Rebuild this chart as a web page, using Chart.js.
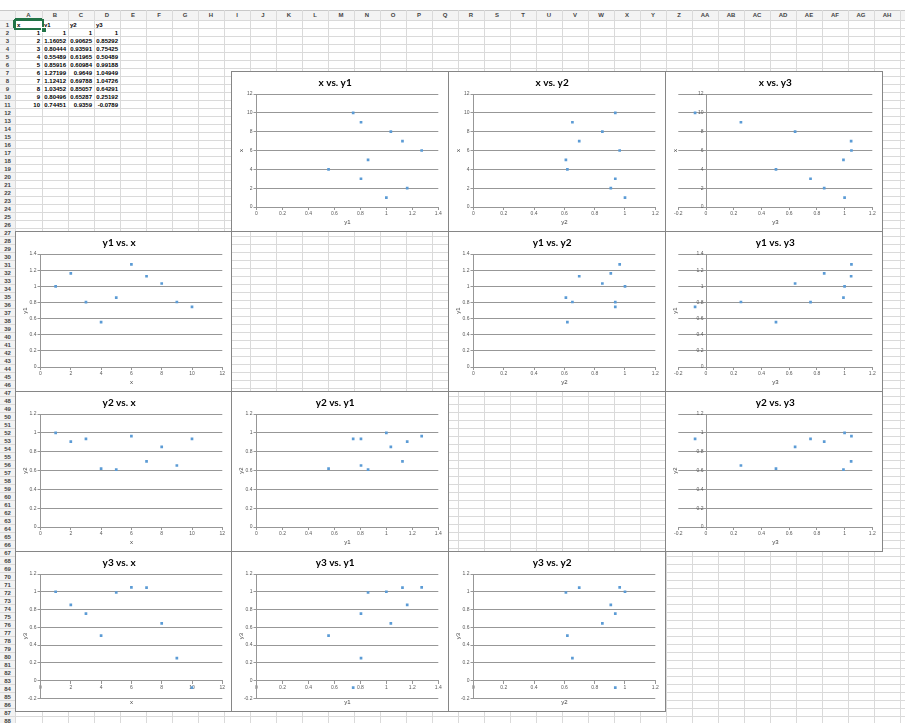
<!DOCTYPE html>
<html><head><meta charset="utf-8">
<script src="https://cdn.jsdelivr.net/npm/chart.js@4.4.1/dist/chart.umd.min.js"></script>
<style>
html,body{margin:0;padding:0;background:#fff;overflow:hidden}
#sheet{position:relative;width:905px;height:723px;overflow:hidden;background:#fff}
.ln{position:absolute;background:#dadada}
.hd{position:absolute;background:#f3f3f3}
.ht{position:absolute;font:bold 6px "Liberation Sans",Arial,sans-serif;color:#444;text-align:center;line-height:8px;height:8px;white-space:nowrap}
.cell{position:absolute;font:bold 6px "Liberation Sans",Arial,sans-serif;color:#000;line-height:8px;height:8px;white-space:nowrap;overflow:visible}
.chart{position:absolute;box-sizing:border-box;border:1px solid #868686;background:#fff}
.chart canvas{position:absolute;left:0;top:0}
</style></head><body><div id="sheet"></div>
<script>
// ---- data (read from the sheet / charts) ----
const x  = [1, 2, 3, 4, 5, 6, 7, 8, 9, 10];
const y1 = [1, 1.16052, 0.80444, 0.55489, 0.85916, 1.27199, 1.12412, 1.03452, 0.80496, 0.74451];
const y2 = [1, 0.90625, 0.93591, 0.61965, 0.60984, 0.9649, 0.69788, 0.85057, 0.65287, 0.9359];
const y3 = [1, 0.85292, 0.75425, 0.50489, 0.99188, 1.04949, 1.04726, 0.64291, 0.25192, -0.0789];
const names = ['x', 'y1', 'y2', 'y3'];
const axisMin  = { x: 0,  y1: 0,   y2: 0,   y3: -0.2 };
const axisMax  = { x: 12, y1: 1.4, y2: 1.2, y3: 1.2 };
const axisStep = { x: 2,  y1: 0.2, y2: 0.2, y3: 0.2 };

const series = { x: x, y1: y1, y2: y2, y3: y3 };
const sheet = document.getElementById('sheet');
function el(cls, css, text) {
  const d = document.createElement('div');
  if (cls) d.className = cls;
  Object.assign(d.style, css);
  if (text !== undefined) d.textContent = text;
  sheet.appendChild(d);
  return d;
}
function colName(i) {
  let s = ''; i++;
  while (i > 0) { const m = (i - 1) % 26; s = String.fromCharCode(65 + m) + s; i = Math.floor((i - 1) / 26); }
  return s;
}
// ---- spreadsheet grid ----
const colX = [15];
for (let i = 0; i <= 35; i++) colX.push(42 + i * 26);
const HDR_TOP = 10, ROW0 = 20, RH = 8;
el('hd', {left: '0px', top: HDR_TOP + 'px', width: '905px', height: (ROW0 - HDR_TOP) + 'px'});
el('hd', {left: '0px', top: HDR_TOP + 'px', width: '15px', height: '713px'});
el('ln', {left: '0px', top: HDR_TOP + 'px', width: '905px', height: '1px', background: '#c8c8c8'});
for (let k = 0; k < colX.length; k++) {
  el('ln', {left: colX[k] + 'px', top: HDR_TOP + 'px', width: '1px', height: '713px'});
}
for (let n = 0; n <= 90; n++) {
  el('ln', {left: '0px', top: (ROW0 + n * RH) + 'px', width: '905px', height: '1px'});
}
for (let k = 0; k < colX.length - 1; k++) {
  el('ht', {left: colX[k] + 'px', top: (HDR_TOP + 1) + 'px', width: (colX[k + 1] - colX[k]) + 'px'}, colName(k));
}
for (let n = 1; n <= 88; n++) {
  el('ht', {left: '0px', top: (ROW0 + (n - 1) * RH + 0.5) + 'px', width: '15px'}, String(n));
}
// header highlight for A / 1
el('', {position: 'absolute', left: colX[0] + 'px', top: (ROW0 - 2) + 'px', width: (colX[1] - colX[0]) + 'px', height: '2px', background: '#217346'});
el('', {position: 'absolute', left: '13px', top: ROW0 + 'px', width: '2px', height: RH + 'px', background: '#217346'});
// cells
function fmt(v) {
  if (Number.isInteger(v)) return String(v);
  const intLen = String(Math.trunc(Math.abs(v))).length + (v < 0 ? 1 : 0);
  const dec = Math.max(0, 7 - intLen - 1);
  return parseFloat(v.toFixed(dec)).toString();
}
const cols = [x, y1, y2, y3];
names.forEach((nm, k) => {
  el('cell', {left: (colX[k] + 2) + 'px', top: (ROW0 + 0.5) + 'px'}, nm);
  cols[k].forEach((v, i) => {
    el('cell', {left: colX[k] + 'px', width: (colX[k + 1] - colX[k] - 2) + 'px', textAlign: 'right', top: (ROW0 + (i + 1) * RH + 0.5) + 'px'}, fmt(v));
  });
});
// selected cell A1
el('', {position: 'absolute', left: (colX[0] - 1) + 'px', top: (ROW0 - 1) + 'px', width: (colX[1] - colX[0] + 3) + 'px', height: (RH + 3) + 'px', border: '2px solid #217346', boxSizing: 'border-box'});
el('', {position: 'absolute', left: (colX[1] - 1) + 'px', top: (ROW0 + RH - 1) + 'px', width: '4px', height: '4px', background: '#217346', border: '1px solid #fff'});

// ---- charts ----
const GRID = '#979797';
const TICKC = '#595959';
const tickFont = {family: 'Liberation Sans', size: 5};
function tickText(v) {
  let r = Math.round(v * 1000) / 1000;
  if (Object.is(r, -0)) r = 0;
  return String(r);
}
const axisTitlesPlugin = {
  id: 'axisTitles',
  afterDraw(chart, args, o) {
    const {ctx, chartArea} = chart;
    ctx.save();
    ctx.fillStyle = '#404040';
    ctx.font = '6px "Liberation Sans"';
    ctx.textAlign = 'center';
    ctx.textBaseline = 'middle';
    ctx.fillText(o.xText, (chartArea.left + chartArea.right) / 2, o.xY);
    ctx.translate(o.yX, (chartArea.top + chartArea.bottom) / 2);
    ctx.rotate(-Math.PI / 2);
    ctx.fillText(o.yText, 0, 0);
    ctx.restore();
  }
};
const boxX = [15, 231, 448, 665, 882];
const boxY = [71, 231, 391, 551, 711];
for (let r = 0; r < 4; r++) {
  for (let c = 0; c < 4; c++) {
    if (r === c) continue;
    const vName = names[r], hName = names[c];
    const crossY = axisMin[hName] < 0;
    const crossX = axisMin[vName] < 0;
    const L = boxX[c], T = boxY[r], W = boxX[c + 1] - L + 1, H = boxY[r + 1] - T + 1;
    const box = el('chart', {left: L + 'px', top: T + 'px', width: W + 'px', height: H + 'px'});
    const cw = W - 2, ch = H - 2;
    const cv = document.createElement('canvas');
    cv.width = cw; cv.height = ch; cv.style.width = cw + 'px'; cv.style.height = ch + 'px';
    box.appendChild(cv);
    const pts = series[hName].map((v, i) => ({x: v, y: series[vName][i]}));
    new Chart(cv, {
      type: 'scatter',
      data: {datasets: [{data: pts, pointStyle: 'rect', pointRadius: 1.9, backgroundColor: '#5B9BD5', borderWidth: 0}]},
      options: {
        responsive: false, maintainAspectRatio: false, animation: false, devicePixelRatio: 1, events: [],
        layout: {padding: {left: crossY ? 12.3 : 0, right: cw - 206.3, top: 0, bottom: crossX ? ch - 146.3 : 0}},
        plugins: {
          legend: {display: false}, tooltip: {enabled: false},
          title: {display: true, text: vName + ' vs. ' + hName, color: '#000',
                  font: {family: 'Lato', size: 10, weight: 'bold', lineHeight: 1.2}, padding: {top: 4.7, bottom: 5.3}},
          axisTitles: {xText: hName, yText: vName, xY: 150.5, yX: 9.7}
        },
        scales: {
          x: {type: 'linear', position: crossX ? {y: 0} : 'bottom', min: axisMin[hName], max: axisMax[hName],
              ticks: {stepSize: axisStep[hName], font: tickFont, color: TICKC, padding: 1, maxRotation: 0, autoSkip: false,
                      callback: v => tickText(v)},
              grid: {drawOnChartArea: false, drawTicks: true, tickLength: 3, color: GRID},
              border: {display: true, color: GRID},
              afterFit: s => { if (!crossX) s.height = ch - 135; }},
          y: {type: 'linear', position: crossY ? {x: 0} : 'left', min: axisMin[vName], max: axisMax[vName],
              ticks: {stepSize: axisStep[vName], font: tickFont, color: TICKC, padding: 1, autoSkip: false,
                      callback: v => crossY ? tickText(v) + '\u2002' : tickText(v)},
              grid: {color: GRID, tickLength: 3},
              border: {display: true, color: GRID},
              afterFit: s => { if (!crossY) s.width = 24.5; }}
        }
      },
      plugins: [axisTitlesPlugin]
    });
  }
}
</script></body></html>
